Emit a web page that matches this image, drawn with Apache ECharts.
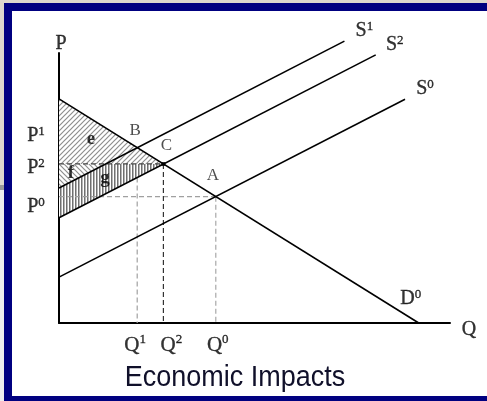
<!DOCTYPE html>
<html>
<head>
<meta charset="utf-8">
<title>Economic Impacts</title>
<script src="https://cdn.jsdelivr.net/npm/echarts@6/dist/echarts.min.js"></script>
<style>
    html, body { margin: 0; padding: 0; background: #fff; }
    #main { width: 487px; height: 401px; }
</style>
</head>
<body>
<div id="main"></div>
<script>
// curves (Q and P both on a 0-100 scale)
const demand = [[0, 83], [92, 0]];
const supply1 = [[0, 50], [73, 104.4]];
const supply2 = [[0, 39], [81, 99.3]];
const supply0 = [[0, 17], [88.5, 82.9]];

// equilibrium points
const pointB = [20, 64.9];
const pointC = [26.7, 58.9];
const pointA = [40.1, 46.8];

// levels on the axes
const priceLevels = [64.9, 58.9, 46.8];
const priceNames = ["1", "2", "0"];
const qtyLevels = [20, 26.7, 40.1];
const qtyNames = ["1", "2", "0"];

// shaded areas e, f, g
const areaE = [[0, 83], [0, 58.9], [26.7, 58.9]];
const areaF = [[0, 58.9], [12.1, 58.9], [0, 50]];
const areaG = [[0, 50], [12.1, 58.9], [26.7, 58.9], [0, 39]];
const areaNames = ["e", "f", "g"];

const SERIF = '"Liberation Serif", "Times New Roman", serif';

function hatch(kind) {
    const c = document.createElement("canvas");
    const ctx = c.getContext("2d");
    if (kind === "vert") {
        c.width = 3; c.height = 3;
        ctx.fillStyle = "#fff"; ctx.fillRect(0, 0, 3, 3);
        ctx.fillStyle = "#707070"; ctx.fillRect(0, 0, 1, 3);
        ctx.fillStyle = "#b5b5b5"; ctx.fillRect(1, 0, 1, 3);
        return { image: c, repeat: "repeat" };
    }
    const s = 5;
    c.width = s; c.height = s;
    ctx.fillStyle = "#fff"; ctx.fillRect(0, 0, s, s);
    ctx.strokeStyle = "#8e8e8e";
    ctx.lineWidth = 1.2;
    ctx.beginPath();
    if (kind === "fwd") {
        ctx.moveTo(-1, s + 1); ctx.lineTo(s + 1, -1);
        ctx.moveTo(-1, 1); ctx.lineTo(1, -1);
        ctx.moveTo(s - 1, s + 1); ctx.lineTo(s + 1, s - 1);
    } else {
        ctx.moveTo(-1, -1); ctx.lineTo(s + 1, s + 1);
        ctx.moveTo(s - 1, -1); ctx.lineTo(s + 1, 1);
        ctx.moveTo(-1, s - 1); ctx.lineTo(1, s + 1);
    }
    ctx.stroke();
    return { image: c, repeat: "repeat" };
}

const areas = [areaE, areaF, areaG];
const fills = [hatch("fwd"), hatch("back"), hatch("vert")];

function curve(data, color, width, type) {
    return {
        type: "line",
        data: data,
        symbol: "none",
        clip: false,
        silent: true,
        z: 4,
        lineStyle: { color: color, width: width, type: type || "solid" },
    };
}

function dashed(data, color) {
    const s = curve(data, color, 1.2, [5, 3]);
    s.z = 3;
    return s;
}

// rich label with a superscript
function sup(main, small) {
    return "{m|" + main + "}{s|" + small + "}";
}
function richStyle(size, subSize, color) {
    const thick = { textBorderColor: color, textBorderWidth: 0.35 };
    return {
        m: Object.assign({ fontFamily: SERIF, fontSize: size, color: color, lineHeight: size + 2 }, thick),
        s: Object.assign({ fontFamily: SERIF, fontSize: subSize, color: color, lineHeight: subSize + 5, verticalAlign: "top" }, thick),
    };
}

function textItem(value, text, offset, rich) {
    return {
        value: value,
        label: { show: true, position: "inside", formatter: text, offset: offset, rich: rich },
    };
}

const big = richStyle(20, 13, "#000");
const pnt = { m: { fontFamily: SERIF, fontSize: 17, color: "#222" } };
const bold = { m: { fontFamily: SERIF, fontSize: 19, fontWeight: "bold", color: "#000" } };

const pOffsets = [[-23, -12], [-23, 4], [-23, 10]];
const qOffsets = [[-2, 22], [8, 22], [2, 22]];
const areaOffsets = [[32, -25], [12, 9], [46, 14]];

const labels = []
    .concat(priceLevels.map((p, i) => textItem([0, p], sup("P", priceNames[i]), pOffsets[i], big)))
    .concat(qtyLevels.map((q, i) => textItem([q, 0], sup("Q", qtyNames[i]), qOffsets[i], richStyle(21, 13, "#000"))))
    .concat(areaNames.map((n, i) => textItem([0, pointC[1]], "{m|" + n + "}", areaOffsets[i], bold)))
    .concat([
        textItem([0, 100], "{m|P}", [2, -9], big),
        textItem([100, 0], "{m|Q}", [19, 7], big),
        textItem(supply1[1], sup("S", "1"), [20, -10], big),
        textItem(supply2[1], sup("S", "2"), [19, -10], big),
        textItem(supply0[1], sup("S", "0"), [20, -10], big),
        textItem(demand[1], sup("D", "0"), [-8, -24], big),
        textItem(pointB, "{m|B}", [-2, -17], pnt),
        textItem(pointC, "{m|C}", [3, -18], pnt),
        textItem(pointA, "{m|A}", [-3, -21], pnt),
    ]);

const chart = echarts.init(document.getElementById("main"), null, { renderer: "canvas" });

const option = {
    backgroundColor: "#ffffff",
    animation: false,
    graphic: [
        { type: "rect", z: 0, shape: { x: 0, y: 0, width: 487, height: 401 }, style: { fill: "#dcd7cd" } },
        { type: "rect", z: 0, shape: { x: 0, y: 190, width: 4, height: 211 }, style: { fill: "#eeeeee" } },
        { type: "rect", z: 0, shape: { x: 0, y: 185, width: 4, height: 5 }, style: { fill: "#9a9a9a" } },
        { type: "rect", z: 0, shape: { x: 4, y: 3, width: 483, height: 398 }, style: { fill: "#000080" } },
        { type: "rect", z: 0, shape: { x: 12, y: 11, width: 475, height: 385 }, style: { fill: "#ffffff" } },
        {
            type: "text", z: 1, x: 235, y: 378, scaleY: 1.12,
            style: {
                text: "Economic Impacts",
                fill: "#10102a",
                font: '27px "Liberation Sans", Arial, sans-serif',
                align: "center",
                verticalAlign: "middle",
            },
        },
    ],
    grid: { left: 59, top: 53, width: 391, height: 270 },
    xAxis: {
        type: "value", min: 0, max: 100,
        axisLine: { show: true, onZero: false, lineStyle: { color: "#000", width: 2 } },
        axisTick: { show: false }, axisLabel: { show: false }, splitLine: { show: false },
    },
    yAxis: {
        type: "value", min: 0, max: 100,
        axisLine: { show: true, onZero: false, lineStyle: { color: "#000", width: 2 } },
        axisTick: { show: false }, axisLabel: { show: false }, splitLine: { show: false },
    },
    series: [
        {
            type: "custom",
            silent: true,
            z: 1,
            data: areas.map(() => [0, 0]),
            renderItem: (params, api) => {
                const pts = areas[params.dataIndex].map((p) => api.coord(p));
                return { type: "polygon", shape: { points: pts }, style: { fill: fills[params.dataIndex], stroke: null } };
            },
        },
        dashed([[0, pointC[1]], pointC], "#444"),
        dashed([[0, pointA[1]], pointA], "#a0a0a0"),
        dashed([[qtyLevels[0], 53.9], [qtyLevels[0], 0]], "#a0a0a0"),
        dashed([pointC, [pointC[0], 0]], "#333"),
        dashed([pointA, [pointA[0], 0]], "#a8a8a8"),
        curve(demand, "#000", 1.6),
        curve(supply1, "#000", 1.6),
        curve(supply2, "#000", 1.6),
        curve(supply0, "#000", 1.6),
        {
            type: "scatter",
            silent: true,
            z: 5,
            symbol: "rect",
            symbolSize: 4,
            itemStyle: { color: "#000" },
            data: [pointC],
        },
        {
            type: "scatter",
            silent: true,
            clip: false,
            z: 6,
            symbolSize: 0,
            data: labels,
        },
    ],
};

chart.setOption(option);
</script>
</body>
</html>
